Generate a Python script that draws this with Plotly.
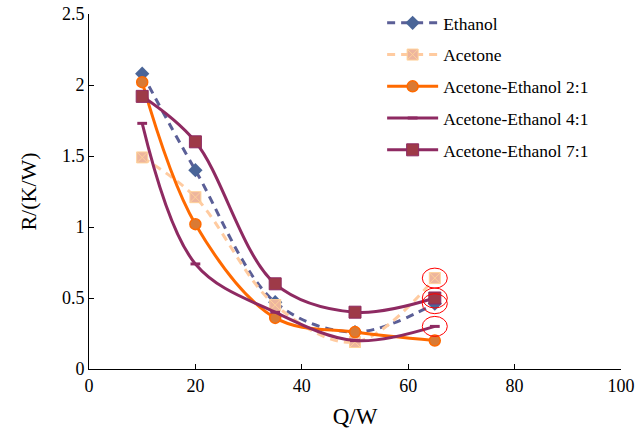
import plotly.graph_objects as go

x_vals = [10, 20, 35, 50, 65]
ethanol = [2.08, 1.40, 0.47, 0.26, 0.46]
acetone = [1.49, 1.21, 0.45, 0.19, 0.64]
mix_2_1 = [2.02, 1.02, 0.36, 0.26, 0.20]
mix_4_1 = [1.73, 0.74, 0.40, 0.20, 0.30]
mix_7_1 = [1.92, 1.60, 0.60, 0.40, 0.50]

x_ticks = [0, 20, 40, 60, 80, 100]
y_ticks = [0, 0.5, 1, 1.5, 2, 2.5]
y_tick_labels = ["0", "0.5", "1", "1.5", "2", "2.5"]

FONT = "Liberation Serif"
SHIFT = 14  # extra top space, hidden by page offset, so the legend can sit high

fig = go.Figure()

series = [
    dict(name="Ethanol", y=ethanol, line=dict(color="#5B5F97", width=3, dash="8px,6px"),
         marker=dict(symbol="diamond", size=11, color="#4A6598")),
    dict(name="Acetone", y=acetone, line=dict(color="#FFCBA0", width=3, dash="8px,6px"),
         marker=dict(symbol="square-x", size=11, color="#EDB59E",
                     line=dict(color="#FFD29A", width=1))),
    dict(name="Acetone-Ethanol 2:1", y=mix_2_1, line=dict(color="#FF6A00", width=3),
         marker=dict(symbol="circle", size=11, color="#D97A34",
                     line=dict(color="#FF6A00", width=1.5))),
    dict(name="Acetone-Ethanol 4:1", y=mix_4_1, line=dict(color="#8E2A62", width=3),
         marker=dict(symbol="line-ew", size=7, color="#8E2A62",
                     line=dict(color="#8E2A62", width=3))),
    dict(name="Acetone-Ethanol 7:1", y=mix_7_1, line=dict(color="#8E2A62", width=3),
         marker=dict(symbol="square", size=12, color="#9E3A48",
                     line=dict(color="#8E2A62", width=1))),
]

for i, s in enumerate(series):
    line = dict(s["line"])
    line["shape"] = "spline"
    line["smoothing"] = 1.0
    fig.add_trace(go.Scatter(
        x=x_vals, y=s["y"], name=s["name"], mode="lines+markers",
        line=line, marker=s["marker"], legendgroup=f"g{i}",
    ))

# red highlight circles around the final points
highlight = [acetone, mix_7_1, ethanol, mix_4_1]
for arr in highlight:
    fig.add_shape(
        type="circle", xref="x", yref="y",
        xsizemode="pixel", ysizemode="pixel",
        xanchor=x_vals[-1], yanchor=arr[-1],
        x0=-12.5, x1=12.5, y0=-10, y1=10,
        line=dict(color="#FF0000", width=1),
        fillcolor="rgba(0,0,0,0)",
    )

fig.update_layout(
    width=644, height=429 + SHIFT,
    margin=dict(l=89, r=23, t=14 + SHIFT, b=60),
    paper_bgcolor="white", plot_bgcolor="white",
    font=dict(family=FONT, size=18, color="black"),
    showlegend=True,
    legend=dict(
        x=0.551, y=1.0255, xanchor="left", yanchor="top",
        font=dict(family=FONT, size=17.5, color="black"),
        bgcolor="rgba(0,0,0,0)", tracegroupgap=6, traceorder="grouped",
        itemwidth=51,
    ),
    xaxis=dict(
        range=[0, 100], tickvals=x_ticks, ticks="inside", ticklen=5,
        tickcolor="black", showline=True, linecolor="black", linewidth=1,
        showgrid=False, zeroline=False, automargin=False,
        tickfont=dict(family=FONT, size=18, color="black"),
        title=dict(text="Q/W", font=dict(family=FONT, size=23, color="black"), standoff=22),
    ),
    yaxis=dict(
        range=[0, 2.5], tickvals=y_ticks, ticktext=y_tick_labels, ticks="inside",
        ticklen=5, tickcolor="black", showline=True, linecolor="black", linewidth=1,
        showgrid=False, zeroline=False, automargin=False,
        tickfont=dict(family=FONT, size=18, color="black"),
        title=dict(text="R/(K/W)", font=dict(family=FONT, size=22, color="black"), standoff=19),
    ),
)

fig.write_html(
    "out.html",
    config={"displayModeBar": False},
    post_script=f"document.body.style.margin='-{SHIFT}px 0 0 0';",
)
